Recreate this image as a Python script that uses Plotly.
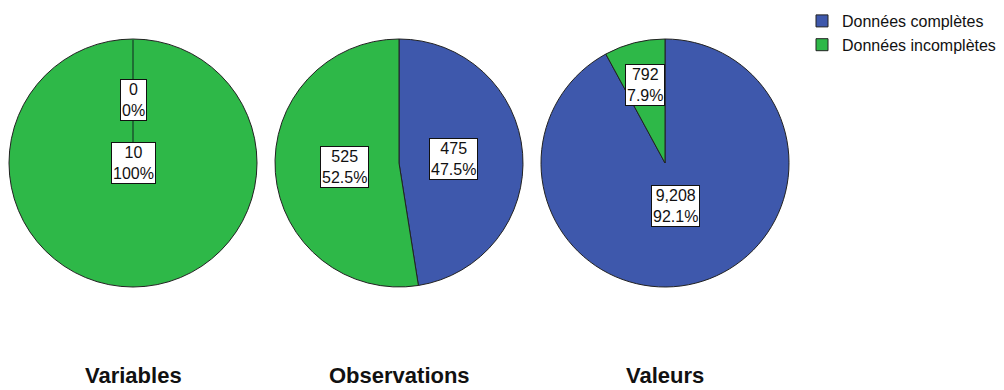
import math
import plotly.graph_objects as go

# ---- data ----
pie_titles = ["Variables", "Observations", "Valeurs"]
slice_labels = ["Données complètes", "Données incomplètes"]
complete_vals = [0, 475, 9208]
incomplete_vals = [10, 525, 792]

# ---- style / layout ----
W, H = 1004, 390
colors = ["#3E58AC", "#2EB848"]
font_family = "Liberation Sans, Arial, sans-serif"
pie_boxes_px = [(9, 39, 257, 287), (275, 39, 523, 287), (541, 39, 789, 287)]  # x0,y0,x1,y1 from top-left
label_rfrac = [[0.51, 0.0], [0.44, 0.44], [0.36, 0.65]]
title_y_px = 375

def px_x(x):
    return x / W

def px_y(y):
    return 1 - y / H

def fmt_pct(p):
    s = f"{p:.1f}"
    if s.endswith(".0"):
        s = s[:-2]
    return s + "%"

fig = go.Figure()
annotations = []
shapes = []

for i, title in enumerate(pie_titles):
    vals = [complete_vals[i], incomplete_vals[i]]
    x0, y0, x1, y1 = pie_boxes_px[i]
    fig.add_trace(go.Pie(
        labels=slice_labels,
        values=vals,
        sort=False,
        direction="clockwise",
        rotation=0,
        textinfo="none",
        hoverinfo="label+value+percent",
        marker=dict(colors=colors, line=dict(color="#222222", width=1)),
        domain=dict(x=[px_x(x0), px_x(x1)], y=[px_y(y1), px_y(y0)]),
        showlegend=(i == 0),
        legendgroup="g",
    ))
    cx, cy = (x0 + x1) / 2, (y0 + y1) / 2
    r = min(x1 - x0, y1 - y0) / 2
    total = sum(vals)
    cum = 0.0
    for j, v in enumerate(vals):
        a0 = cum / total * 360
        a1 = (cum + v) / total * 360
        cum += v
        mid = math.radians((a0 + a1) / 2)
        d = label_rfrac[i][j] * r
        lx = cx + math.sin(mid) * d
        ly = cy - math.cos(mid) * d
        annotations.append(dict(
            x=px_x(lx), y=px_y(ly), xref="paper", yref="paper",
            text=f"{v:,}<br>{fmt_pct(100 * v / total)}",
            showarrow=False, xanchor="center", yanchor="middle",
            font=dict(family=font_family, size=16, color="#111111"),
            bgcolor="white", bordercolor="#111111", borderwidth=1, borderpad=1,
        ))
        # radial boundary lines for zero-size slices (not drawn by plotly)
        if v == 0:
            ang = math.radians(a0)
            shapes.append(dict(
                type="line", xref="paper", yref="paper",
                x0=px_x(cx), y0=px_y(cy),
                x1=px_x(cx + math.sin(ang) * r), y1=px_y(cy - math.cos(ang) * r),
                line=dict(color="#1f6e34", width=2),
            ))
    annotations.append(dict(
        x=px_x(cx), y=px_y(title_y_px), xref="paper", yref="paper",
        text=f"<b>{title}</b>", showarrow=False, xanchor="center", yanchor="middle",
        font=dict(family=font_family, size=22, color="#111111"),
    ))

fig.update_layout(
    width=W, height=H,
    margin=dict(l=0, r=0, t=0, b=0),
    paper_bgcolor="white", plot_bgcolor="white",
    font=dict(family=font_family, size=16, color="#111111"),
    legend=dict(x=px_x(802), y=px_y(4), xanchor="left", yanchor="top",
                font=dict(family=font_family, size=16, color="#111111"),
                bgcolor="rgba(0,0,0,0)", tracegroupgap=0, itemwidth=30),
    annotations=annotations,
    shapes=shapes,
)

fig.write_html("out.html",
               config={"displayModeBar": False},
               post_script="document.body.style.margin='0px';document.body.style.overflow='hidden';")
